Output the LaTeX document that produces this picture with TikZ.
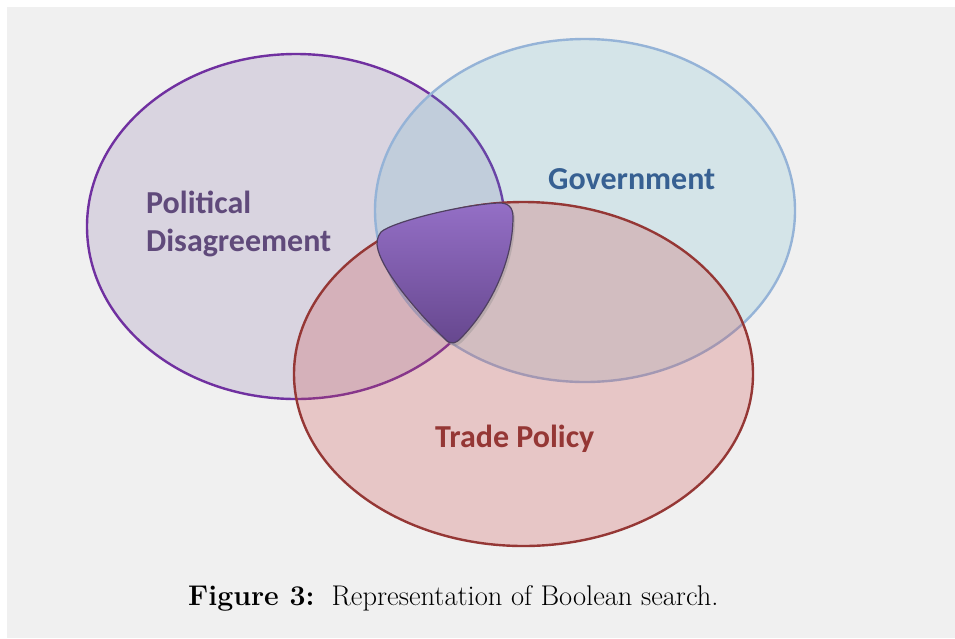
\documentclass[tikz,border=0pt]{standalone}
\usepackage{fontspec}
\newfontfamily\labelfont{Carlito}
\usetikzlibrary{shadows}

\definecolor{pagegray}{HTML}{F0F0F0}
\definecolor{polline}{HTML}{7030A0}
\definecolor{polfill}{HTML}{8064A2}
\definecolor{polText}{HTML}{604A7B}
\definecolor{govline}{HTML}{95B3D7}
\definecolor{govfill}{HTML}{4BACC6}
\definecolor{govText}{HTML}{376092}
\definecolor{tradeline}{HTML}{953735}
\definecolor{tradefill}{HTML}{CD4B4B}
\definecolor{pickTop}{HTML}{946FC6}
\definecolor{pickMid}{HTML}{7F5CB0}
\definecolor{pickBottom}{HTML}{66478E}
\definecolor{pickEdge}{HTML}{4F4060}

\tikzset{
  setline/.style={line width=2.4pt},
  setlabel/.style={inner sep=0pt, font=\labelfont\bfseries\fontsize{32}{38}\selectfont},
  captiontext/.style={inner sep=0pt, font=\fontsize{28.5}{32}\selectfont}
}

\begin{document}
\begin{tikzpicture}[x=1pt,y=-1pt]
\useasboundingbox (0,0) rectangle (955,638);
\fill[white] (0,0) rectangle (955,638);
\fill[pagegray] (7,7) rectangle (955,638);

% the three sets
\path[setline, draw=polline, fill=polfill, fill opacity=0.2]
  (296,226.5) ellipse [x radius=209pt, y radius=172.5pt];
\path[setline, draw=govline, fill=govfill, fill opacity=0.17]
  (585,210.5) ellipse [x radius=210pt, y radius=171.5pt];
\path[setline, draw=tradeline, fill=tradefill, fill opacity=0.25]
  (523.5,374) ellipse [x radius=229.5pt, y radius=172pt];

% common region of all three sets, a rounded triangle
\path[draw=pickEdge, line width=1.2pt, top color=pickTop, middle color=pickMid, bottom color=pickBottom,
      drop shadow={shadow xshift=2pt, shadow yshift=-3pt, opacity=0.3}]
  (381,232) .. controls (392,222) and (460,205) .. (498,203)
  .. controls (508,202.5) and (513,207) .. (513,217)
  .. controls (513,262) and (490,308) .. (462,337)
  .. controls (456,344) and (450,345) .. (445,339)
  .. controls (420,315) and (385,275) .. (378,250)
  .. controls (376,243) and (377,237) .. (381,232) -- cycle;

% labels
\node[setlabel, text=polText, align=left, anchor=base west] (pol) at (146,251)
  {Political\\Disagreement};
\node[setlabel, text=govText, anchor=base west] (gov) at (548,189) {Government};
\node[setlabel, text=tradeline, anchor=base west] (trade) at (435,447) {Trade Policy};

% caption
\node[captiontext, anchor=base west] (cap) at (188,605)
  {\textbf{Figure 3:}\hspace{0.6em}Representation of Boolean search.};
\end{tikzpicture}
\end{document}
